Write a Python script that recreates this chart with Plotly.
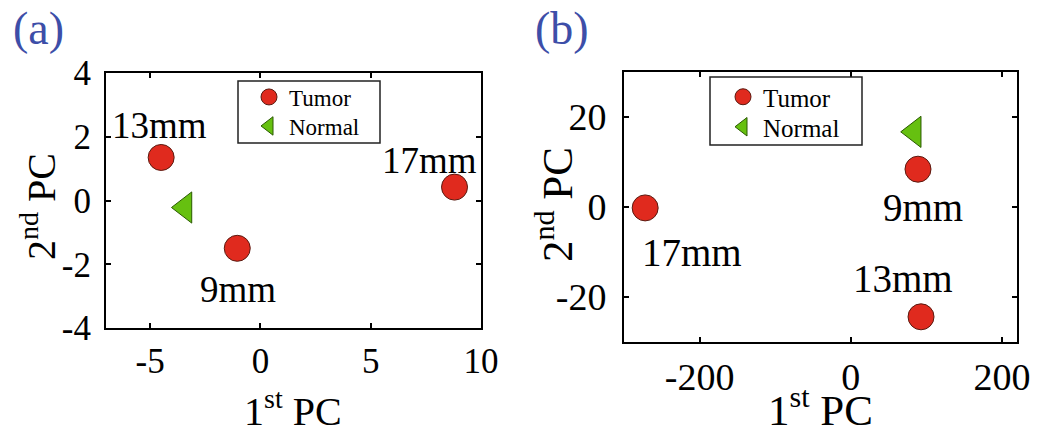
import plotly.graph_objects as go

# ---- data ----
# panel (a)
a_tumor_x = [-4.5, -1.05, 8.8]
a_tumor_y = [1.35, -1.5, 0.42]
a_tumor_lbl = ["13mm", "9mm", "17mm"]
a_normal_x = [-3.42]
a_normal_y = [-0.22]
# panel (b)
b_tumor_x = [-272, 89, 93]
b_tumor_y = [-0.2, 8.4, -24.4]
b_tumor_lbl = ["17mm", "9mm", "13mm"]
b_normal_x = [84]
b_normal_y = [16.7]

a_xticks = [-5, 0, 5, 10]
a_xtext = ["-5", "0", "5", "10"]
a_yticks = [-4, -2, 0, 2, 4]
a_ytext = ["-4", "-2", "0", "2", "4"]
b_xticks = [-200, 0, 200]
b_xtext = ["-200", "0", "200"]
b_yticks = [-20, 0, 20]
b_ytext = ["-20", "0", "20"]

# label offsets (px) for point annotations
a_shift = [(-2, 32), (1, -41), (-25, 27)]
b_shift = [(47, -45), (5, -38), (-18, 38)]

FONT = "Liberation Serif"
RED = "#e02a1e"
RED_LINE = "#5a1a10"
GREEN = "#66c010"
GREEN_LINE = "#2a5a00"
BLUE = "#3d4ea8"

W, H = 1045, 436
def px(x):
    return x / W
def py(y):
    return 1 - y / H

fig = go.Figure()

fig.add_trace(go.Scatter(x=a_tumor_x, y=a_tumor_y, mode="markers", name="Tumor",
                         xaxis="x", yaxis="y", legend="legend",
                         marker=dict(symbol="circle", size=26, color=RED,
                                     line=dict(color=RED_LINE, width=1))))
fig.add_trace(go.Scatter(x=a_normal_x, y=a_normal_y, mode="markers", name="Normal",
                         xaxis="x", yaxis="y", legend="legend3",
                         marker=dict(symbol="triangle-left", size=27, color=GREEN,
                                     line=dict(color=GREEN_LINE, width=1))))
fig.add_trace(go.Scatter(x=b_tumor_x, y=b_tumor_y, mode="markers", name="Tumor",
                         xaxis="x2", yaxis="y2", legend="legend2",
                         marker=dict(symbol="circle", size=26, color=RED,
                                     line=dict(color=RED_LINE, width=1))))
fig.add_trace(go.Scatter(x=b_normal_x, y=b_normal_y, mode="markers", name="Normal",
                         xaxis="x2", yaxis="y2", legend="legend4",
                         marker=dict(symbol="triangle-left", size=27, color=GREEN,
                                     line=dict(color=GREEN_LINE, width=1))))

annotations = []
for x, y, t, (dx, dy) in zip(a_tumor_x, a_tumor_y, a_tumor_lbl, a_shift):
    annotations.append(dict(x=x, y=y, xref="x", yref="y", text=t, showarrow=False,
                            xanchor="center", yanchor="middle",
                            xshift=dx, yshift=dy, font=dict(family=FONT, size=37, color="black")))
for x, y, t, (dx, dy) in zip(b_tumor_x, b_tumor_y, b_tumor_lbl, b_shift):
    annotations.append(dict(x=x, y=y, xref="x2", yref="y2", text=t, showarrow=False,
                            xanchor="center", yanchor="middle",
                            xshift=dx, yshift=dy, font=dict(family=FONT, size=39, color="black")))

def paper_text(x, y, text, size, color="black", angle=0, yanchor="middle"):
    return dict(x=px(x), y=py(y), xref="paper", yref="paper", text=text, showarrow=False,
                xanchor="center", yanchor=yanchor, textangle=angle,
                font=dict(family=FONT, size=size, color=color))

# panel letters
annotations.append(paper_text(38, 29, "(a)", 46, BLUE))
annotations.append(paper_text(562, 29, "(b)", 46, BLUE))
# axis titles
annotations.append(paper_text(293, 436, "1<sup>st</sup> PC", 40, yanchor="bottom"))
annotations.append(paper_text(820, 436, "1<sup>st</sup> PC", 43, yanchor="bottom"))
annotations.append(paper_text(38, 207, "2<sup>nd</sup> PC", 40, angle=-90))
annotations.append(paper_text(554, 205, "2<sup>nd</sup> PC", 43, angle=-90))

def axis(size, **kw):
    d = dict(showline=True, linewidth=2, linecolor="black", mirror="ticks",
             ticks="inside", ticklen=5, tickwidth=1.5, tickcolor="black",
             showgrid=False, zeroline=False, automargin=False,
             tickfont=dict(family=FONT, size=size, color="black"))
    d.update(kw)
    return d

def leg(x0, yc, size):
    return dict(x=px(x0), y=py(yc), xanchor="left", yanchor="middle",
                borderwidth=0, bgcolor="rgba(0,0,0,0)",
                font=dict(family=FONT, size=size, color="black"),
                tracegroupgap=0, itemwidth=30)

# legend frames
shapes = [
    dict(type="rect", xref="paper", yref="paper", x0=px(238), x1=px(380), y0=py(143), y1=py(81),
         line=dict(color="#222222", width=1.5), fillcolor="white", layer="above"),
    dict(type="rect", xref="paper", yref="paper", x0=px(710), x1=px(862), y0=py(145), y1=py(77),
         line=dict(color="#222222", width=1.5), fillcolor="white", layer="above"),
]

fig.update_layout(
    width=W, height=H,
    margin=dict(l=0, r=0, t=0, b=0, autoexpand=False),
    paper_bgcolor="white", plot_bgcolor="white",
    xaxis=axis(35, domain=[px(106), px(481)], range=[-7, 10], anchor="y",
               tickvals=a_xticks, ticktext=a_xtext, ticklabelstandoff=1),
    yaxis=axis(35, domain=[py(328), py(73)], range=[-4, 4], anchor="x",
               tickvals=a_yticks, ticktext=a_ytext, ticklabelstandoff=6),
    xaxis2=axis(38, domain=[px(624), px(1017)], range=[-300, 220], anchor="y2",
                tickvals=b_xticks, ticktext=b_xtext, ticklabelstandoff=0),
    yaxis2=axis(38, domain=[py(342), py(72)], range=[-30, 30], anchor="x2",
                tickvals=b_yticks, ticktext=b_ytext, ticklabelstandoff=8),
    legend=leg(249, 97, 23),
    legend3=leg(249, 126, 23),
    legend2=leg(723, 97, 25),
    legend4=leg(723, 127, 25),
    shapes=shapes,
    annotations=annotations,
    showlegend=True,
)

fig.write_html("out.html")
